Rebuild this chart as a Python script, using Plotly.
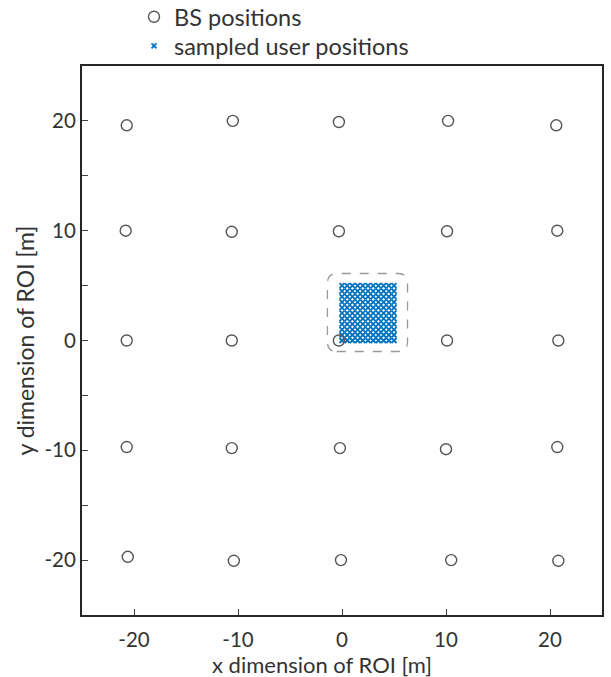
import plotly.graph_objects as go

# Base station positions (slightly perturbed grid)
bs_x = [-20.7, -10.5, -0.3, 10.2, 20.6,
        -20.8, -10.6, -0.3, 10.1, 20.7,
        -20.7, -10.6, -0.3, 10.1, 20.8,
        -20.7, -10.6, -0.2, 10.0, 20.7,
        -20.6, -10.4, -0.1, 10.5, 20.8]
bs_y = [19.6, 20.0, 19.9, 20.0, 19.6,
        10.0, 9.9, 9.95, 9.95, 10.0,
        0.0, 0.0, 0.0, 0.0, 0.0,
        -9.7, -9.8, -9.8, -9.9, -9.7,
        -19.7, -20.06, -20.0, -20.0, -20.06]

# sampled user grid coordinates (both dimensions)
user_coords = [0.0, 0.5, 1.0, 1.5, 2.0, 2.5, 3.0, 3.5, 4.0, 4.5, 5.0]
user_x = [cx for cy in user_coords for cx in user_coords]
user_y = [cy for cy in user_coords for cx in user_coords]

x_ticks = [-20, -10, 0, 10, 20]
y_ticks = [-20, -10, 0, 10, 20]
tick_labels = ["-20", "-10", "0", "10", "20"]

FONT = "Lato"
TXT = "#333333"

fig = go.Figure()
fig.add_trace(go.Scatter(
    x=user_x, y=user_y, mode="markers", name="sampled user positions",
    legend="legend2",
    marker=dict(symbol="x-thin", size=5, color="#0072BD",
                line=dict(color="#0072BD", width=1.8))))
fig.add_trace(go.Scatter(
    x=bs_x, y=bs_y, mode="markers", name="BS positions",
    legend="legend",
    marker=dict(symbol="circle-open", size=11, color="#555555",
                line=dict(color="#555555", width=1.4))))

# dashed rounded rectangle around the sampled area
x0, x1, y0, y1, r = -1.4, 6.3, -1.0, 6.1, 0.9
path = (f"M {x0+r} {y0} L {x1-r} {y0} Q {x1} {y0} {x1} {y0+r} "
        f"L {x1} {y1-r} Q {x1} {y1} {x1-r} {y1} "
        f"L {x0+r} {y1} Q {x0} {y1} {x0} {y1-r} "
        f"L {x0} {y0+r} Q {x0} {y0} {x0+r} {y0} Z")
fig.add_shape(type="path", path=path, xref="x", yref="y",
              line=dict(color="#999999", width=1.3, dash="dash"))

# axis titles as annotations (x title sits slightly left of centre)
fig.add_annotation(text="x dimension of ROI [m]", xref="paper", yref="paper",
                   x=0.4615, y=-0.0893, xanchor="center", yanchor="middle",
                   showarrow=False, font=dict(family=FONT, size=22, color=TXT))
fig.add_annotation(text="y dimension of ROI [m]", xref="paper", yref="paper",
                   x=-0.1115, y=0.5, xanchor="center", yanchor="middle",
                   textangle=-90, showarrow=False,
                   font=dict(family=FONT, size=23, color=TXT))

axis_common = dict(
    showgrid=False, zeroline=False, ticks="inside", ticklen=6,
    tickcolor="#444444", tickwidth=1,
    showline=True, mirror=True, linecolor="#262626", linewidth=2,
    tickfont=dict(family=FONT, size=20.5, color=TXT),
    ticktext=tick_labels,
)
legend_common = dict(
    x=0.1, xanchor="left", yanchor="middle",
    font=dict(family=FONT, size=23.5, color=TXT),
    bgcolor="rgba(0,0,0,0)", itemsizing="trace",
)
fig.update_layout(
    width=611, height=677,
    margin=dict(l=82, r=9, t=66, b=62, autoexpand=False),
    paper_bgcolor="white", plot_bgcolor="white",
    font=dict(family=FONT, color=TXT),
    xaxis=dict(range=[-25, 25], tickvals=x_ticks, ticklabelstandoff=5,
               **axis_common),
    yaxis=dict(range=[-25, 25], tickvals=y_ticks,
               minor=dict(dtick=5, tick0=0, ticks="inside", ticklen=6,
                          tickcolor="#444444"),
               **axis_common),
    showlegend=True,
    legend=dict(y=1.0893, **legend_common),
    legend2=dict(y=1.0364, **legend_common),
)
fig.write_html("out.html", config={"displayModeBar": False},
               post_script="document.body.style.margin='0';")
